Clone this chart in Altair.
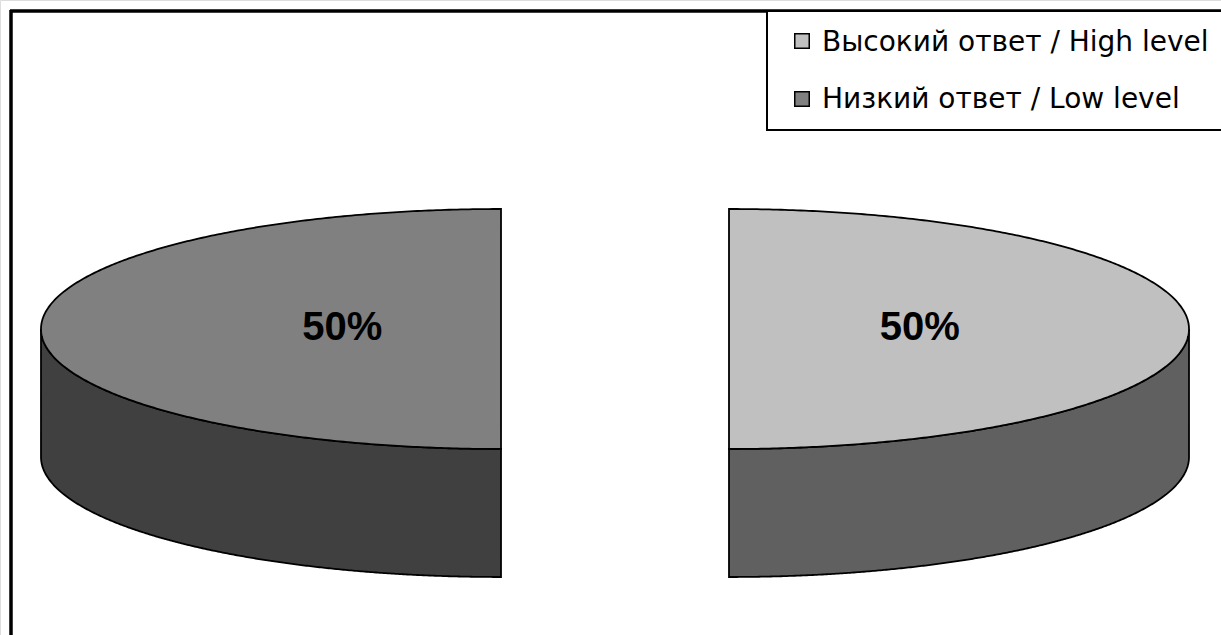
import numpy as np
import pandas as pd
import altair as alt

# Survey result: share of high vs. low answers
categories = ["Высокий ответ / High level", "Низкий ответ / Low level"]
values = [50, 50]
top_colors = ["#c0c0c0", "#808080"]
side_colors = ["#606060", "#404040"]

# Canvas and pseudo-3D pie geometry (screen pixels)
W, H = 1221, 635
CX, CY = 615, 329          # pie centre before explosion
RX, RY = 460, 120          # ellipse radii of the top face
DEPTH = 128                # thickness of the pie
EXPLODE = 114              # how far each slice is pulled out
LABEL_R, LABEL_DX, LABEL_DY = 0.38, 16, -1
N = 361

total = float(sum(values))
top_rows, side_rows, label_rows = [], [], []
start = 0.0
for cat, val, ctop, cside in zip(categories, values, top_colors, side_colors):
    a0 = start
    a1 = start + 360.0 * val / total
    start = a1
    mid = np.radians((a0 + a1) / 2)
    cx = CX + EXPLODE * np.sin(mid)
    cy = CY - EXPLODE * np.cos(mid) * RY / RX

    # outline of the top face: centre + arc (angles clockwise from 12 o'clock)
    th = np.radians(np.linspace(a0, a1, N))
    px = cx + RX * np.sin(th)
    py = cy - RY * np.cos(th)
    poly = [(cx, cy)] + list(zip(px, py))
    edges = list(zip(poly, poly[1:] + poly[:1]))
    xs = np.unique(np.round(np.concatenate([px, [cx]]), 6))
    for x in xs:
        ys = []
        for (x0, y0), (x1, y1) in edges:
            if min(x0, x1) - 1e-6 <= x <= max(x0, x1) + 1e-6:
                if abs(x1 - x0) < 1e-6:
                    ys += [y0, y1]
                else:
                    t = (x - x0) / (x1 - x0)
                    ys.append(y0 + t * (y1 - y0))
        if ys:
            top_rows.append({"slice": cat, "x": x, "y": min(ys), "y2": max(ys), "fill": ctop})

    # outer wall: only the front half of the rim (90°..270°) is visible
    s0, s1 = max(a0, 90.0), min(a1, 270.0)
    if s1 > s0:
        th = np.radians(np.linspace(s0, s1, N))
        for t in th:
            y = cy - RY * np.cos(t)
            side_rows.append({"slice": cat, "x": cx + RX * np.sin(t), "y": y, "y2": y + DEPTH, "fill": cside})

    label_rows.append({
        "slice": cat,
        "x": cx + LABEL_R * RX * np.sin(mid) + LABEL_DX,
        "y": cy + LABEL_DY,
        "text": f"{val / total:.0%}",
    })

top_df = pd.DataFrame(top_rows)
side_df = pd.DataFrame(side_rows)
label_df = pd.DataFrame(label_rows)

legend_df = pd.DataFrame({
    "slice": categories,
    "fill": top_colors,
    "row": list(range(len(categories))),
})

xs = alt.Scale(domain=[0, W], range=[0, W])
ys = alt.Scale(domain=[0, H], range=[0, H])
X = lambda f="x": alt.X(f"{f}:Q", scale=xs, axis=None)
Y = lambda f="y": alt.Y(f"{f}:Q", scale=ys, axis=None)

sides = alt.Chart(side_df).mark_area(stroke="black", strokeWidth=1.8, opacity=1).encode(
    x=X(), y=Y(), y2="y2:Q", fill=alt.Fill("fill:N", scale=None), detail="slice:N"
)
tops = alt.Chart(top_df).mark_area(stroke="black", strokeWidth=1.8, opacity=1).encode(
    x=X(), y=Y(), y2="y2:Q", fill=alt.Fill("fill:N", scale=None), detail="slice:N"
)
labels = alt.Chart(label_df).mark_text(
    font="Liberation Sans", fontSize=40, fontWeight="bold", color="black",
    align="center", baseline="middle"
).encode(x=X(), y=Y(), text="text:N")

# chart frame (top and left edges are inside the window)
frame_top = alt.Chart(legend_df).mark_rule(color="black", strokeWidth=3).encode(
    x=alt.value(10), x2=alt.value(W), y=alt.value(11)
)
frame_left = alt.Chart(legend_df).mark_rule(color="black", strokeWidth=3).encode(
    x=alt.value(11), y=alt.value(10), y2=alt.value(H)
)

# legend box
legend_box = alt.Chart(legend_df).mark_rect(
    fill="white", stroke="black", strokeWidth=2
).encode(x=alt.value(767), x2=alt.value(W + 10), y=alt.value(11), y2=alt.value(130))

legend_base = alt.Chart(legend_df).transform_calculate(
    sy="41 + 58 * datum.row", ty="51 + 57 * datum.row"
)
legend_sym = legend_base.mark_square(size=210, stroke="black", strokeWidth=1.5, opacity=1).encode(
    x=alt.value(802), y=Y("sy"), fill=alt.Fill("fill:N", scale=None)
)
legend_txt = legend_base.mark_text(
    font="DejaVu Sans", fontSize=28, align="left", baseline="alphabetic", color="black"
).encode(x=alt.value(822), y=Y("ty"), text="slice:N")

chart = alt.layer(
    sides, tops, labels, frame_top, frame_left, legend_box, legend_sym, legend_txt
).properties(
    width=W, height=H, padding=0, autosize=alt.AutoSizeParams(type="none")
).configure_view(stroke=None).configure(background="white")

chart.save("out.html", embed_options={"renderer": "svg", "actions": False})
